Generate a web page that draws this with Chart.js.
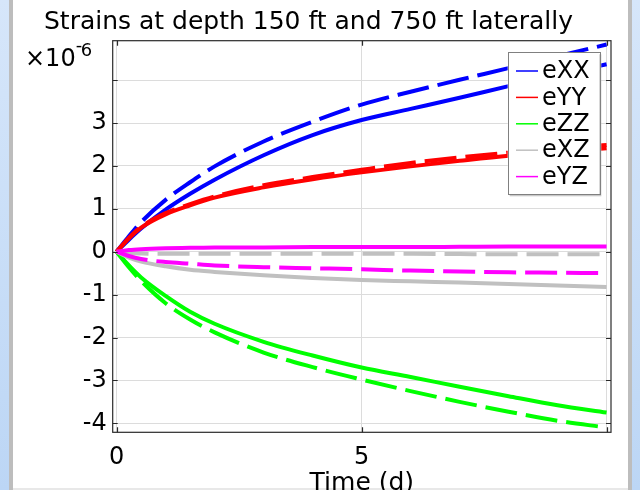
<!DOCTYPE html>
<html>
<head>
<meta charset="utf-8">
<script src="https://cdn.jsdelivr.net/npm/chart.js@4.4.1/dist/chart.umd.min.js"></script>
<style>
html,body{margin:0;padding:0;width:640px;height:490px;overflow:hidden;background:linear-gradient(to bottom,#d6e6fa,#bcd6f5);}
#panel{position:absolute;left:9px;top:0;width:615px;height:490px;background:#fff;border-left:4px solid #bdbdbd;border-right:4px solid #bdbdbd;}
#panel:after{content:"";position:absolute;left:0;right:0;top:488px;height:2px;background:#e8e8e8;}
#wrap{position:absolute;left:0;top:0;width:640px;height:490px;}
</style>
</head>
<body>
<div id="panel"></div>
<div id="wrap"><canvas id="c" width="640" height="490"></canvas></div>
<script>
// ---- data (time in days, strains in 1e-6) ----
const timeDays = [0, 0.25, 0.5, 1, 1.5, 2, 3, 4, 5, 6, 7, 8, 9, 10];

const eXX_solid  = [0, 0.28, 0.54, 0.98, 1.35, 1.68, 2.25, 2.72, 3.07, 3.33, 3.59, 3.86, 4.12, 4.37];
const eXX_dashed = [0, 0.36, 0.69, 1.21, 1.62, 1.99, 2.57, 3.03, 3.43, 3.73, 4.01, 4.28, 4.56, 4.83];
const eYY_solid  = [0, 0.31, 0.56, 0.87, 1.08, 1.26, 1.50, 1.69, 1.85, 1.99, 2.12, 2.24, 2.33, 2.41];
const eYY_dashed = [0, 0.32, 0.58, 0.90, 1.11, 1.29, 1.55, 1.74, 1.91, 2.07, 2.20, 2.31, 2.41, 2.49];
const eZZ_solid  = [0, -0.32, -0.60, -1.03, -1.40, -1.68, -2.10, -2.42, -2.70, -2.92, -3.15, -3.37, -3.58, -3.75];
const eZZ_dashed = [0, -0.36, -0.68, -1.20, -1.58, -1.88, -2.35, -2.69, -2.98, -3.25, -3.50, -3.73, -3.94, -4.10];
const eXZ_solid  = [0, -0.14, -0.23, -0.34, -0.42, -0.47, -0.55, -0.61, -0.66, -0.69, -0.72, -0.75, -0.79, -0.82];
const eXZ_dashed = [0, -0.03, -0.04, -0.05, -0.05, -0.05, -0.05, -0.05, -0.05, -0.05, -0.055, -0.06, -0.06, -0.06];
const eYZ_solid  = [0, 0.04, 0.06, 0.08, 0.09, 0.10, 0.10, 0.11, 0.11, 0.11, 0.115, 0.12, 0.12, 0.12];
const eYZ_dashed = [0, -0.10, -0.17, -0.24, -0.28, -0.32, -0.36, -0.385, -0.41, -0.44, -0.46, -0.48, -0.49, -0.50];

const seriesNames  = ['eXX', 'eYY', 'eZZ', 'eXZ', 'eYZ'];
const seriesColors = ['#0000ff', '#ff0000', '#00ff00', '#c0c0c0', '#ff00ff'];
const solidSeries  = [eXX_solid, eYY_solid, eZZ_solid, eXZ_solid, eYZ_solid];
const dashedSeries = [eXX_dashed, eYY_dashed, eZZ_dashed, eXZ_dashed, eYZ_dashed];

const xTickValues = [0, 5, 10];
const xTickLabels = ['0', '5', ''];
const yTickValues = [-4, -3, -2, -1, 0, 1, 2, 3, 4];
const yTickLabels = ['-4', '-3', '-2', '-1', '0', '1', '2', '3', ''];

const titleText = 'Strains at depth 150 ft and 750 ft laterally';
const xTitle = 'Time (d)';
const FONT = '"DejaVu Sans", sans-serif';

// ---- datasets ----
const datasets = [];
seriesNames.forEach((name, i) => {
  const toPts = arr => timeDays.map((t, k) => ({x: t, y: arr[k]}));
  datasets.push({
    label: name, data: toPts(solidSeries[i]), borderColor: seriesColors[i],
    borderWidth: 4, pointRadius: 0, cubicInterpolationMode: 'monotone',
    order: 10 - 2 * i, isLegend: true, borderCapStyle: 'butt'
  });
  datasets.push({
    label: name + ' (dashed)', data: toPts(dashedSeries[i]), borderColor: seriesColors[i],
    borderWidth: 4, pointRadius: 0, cubicInterpolationMode: 'monotone', borderDash: [32, 9],
    order: 10 - 2 * i - 1, isLegend: false, borderCapStyle: 'butt'
  });
});

const decorPlugin = {
  id: 'decor',
  afterDraw(chart) {
    const ctx = chart.ctx, a = chart.chartArea;
    const xs = chart.scales.x, ys = chart.scales.y;
    ctx.save();
    // frame
    ctx.strokeStyle = '#2a2a2a'; ctx.lineWidth = 1.2;
    ctx.strokeRect(a.left, a.top, a.right - a.left, a.bottom - a.top);
    // inward ticks
    ctx.beginPath();
    yTickValues.forEach(v => {
      const p = Math.round(ys.getPixelForValue(v)) + 0.5;
      ctx.moveTo(a.left, p); ctx.lineTo(a.left + 5, p);
      ctx.moveTo(a.right, p); ctx.lineTo(a.right - 5, p);
    });
    xTickValues.forEach(v => {
      const p = Math.round(xs.getPixelForValue(v)) + 0.5;
      ctx.moveTo(p, a.top); ctx.lineTo(p, a.top + 5);
      ctx.moveTo(p, a.bottom); ctx.lineTo(p, a.bottom - 5);
    });
    ctx.stroke();
    // title
    ctx.fillStyle = '#000';
    ctx.font = '25px ' + FONT;
    ctx.textAlign = 'center'; ctx.textBaseline = 'alphabetic';
    ctx.fillText(titleText, 308.5, 29);
    // exponent
    ctx.textAlign = 'left';
    ctx.font = '24px ' + FONT;
    ctx.fillText('\u00d710', 25, 66);
    const w = ctx.measureText('\u00d710').width;
    ctx.font = '18px ' + FONT;
    ctx.fillText('-', 25 + w, 50.5);
    const hw = ctx.measureText('-').width;
    ctx.fillText('6', 25 + w + hw - 1.5, 55.7);
    // legend
    const bx = 507.7, by = 52.3, bw = 91.6, bh = 142;
    ctx.fillStyle = '#c8c8c8';
    ctx.fillRect(bx + 2, by + 2, bw, bh);
    ctx.fillStyle = '#fff';
    ctx.fillRect(bx, by, bw, bh);
    ctx.strokeStyle = '#808080'; ctx.lineWidth = 1;
    ctx.strokeRect(Math.round(bx) + 0.5, Math.round(by) + 0.5, Math.round(bw), Math.round(bh));
    ctx.font = '24px ' + FONT; ctx.textBaseline = 'middle';
    const legendItems = chart.data.datasets.filter(d => d.isLegend);
    legendItems.forEach((d, k) => {
      const yy = 71 + k * 26.4;
      ctx.strokeStyle = d.borderColor; ctx.lineWidth = 1.5;
      ctx.beginPath(); ctx.moveTo(516, yy); ctx.lineTo(538, yy); ctx.stroke();
      ctx.fillStyle = '#000';
      ctx.fillText(d.label, 542, yy + 1);
    });
    ctx.restore();
  }
};

new Chart(document.getElementById('c'), {
  type: 'line',
  data: {datasets},
  options: {
    responsive: false, animation: false, devicePixelRatio: 1,
    layout: {padding: {left: 0, right: 29, top: 40.7, bottom: 0}},
    plugins: {legend: {display: false}, tooltip: {enabled: false}, title: {display: false}},
    scales: {
      x: {
        type: 'linear', min: -0.08, max: 10.09,
        afterBuildTicks: s => { s.ticks = xTickValues.map(v => ({value: v})); },
        afterFit: s => { s.height = 57.7; },
        grid: {color: '#dcdcdc', lineWidth: 1, drawTicks: false},
        border: {display: false},
        ticks: {
          padding: 11, color: '#000', font: {family: FONT, size: 24}, maxRotation: 0, autoSkip: false,
          callback: (v) => xTickLabels[xTickValues.indexOf(v)] ?? ''
        },
        title: {display: true, text: xTitle, color: '#000', font: {family: FONT, size: 25}, padding: {top: 0, bottom: -8}}
      },
      y: {
        type: 'linear', min: -4.21, max: 4.92,
        afterBuildTicks: s => { s.ticks = yTickValues.map(v => ({value: v})); },
        afterFit: s => { s.width = 112.7; },
        grid: {color: '#dcdcdc', lineWidth: 1, drawTicks: false},
        border: {display: false},
        ticks: {
          padding: 6, color: '#000', font: {family: FONT, size: 24}, autoSkip: false,
          callback: (v) => yTickLabels[yTickValues.indexOf(v)] ?? ''
        }
      }
    }
  },
  plugins: [decorPlugin]
});
</script>
</body>
</html>
